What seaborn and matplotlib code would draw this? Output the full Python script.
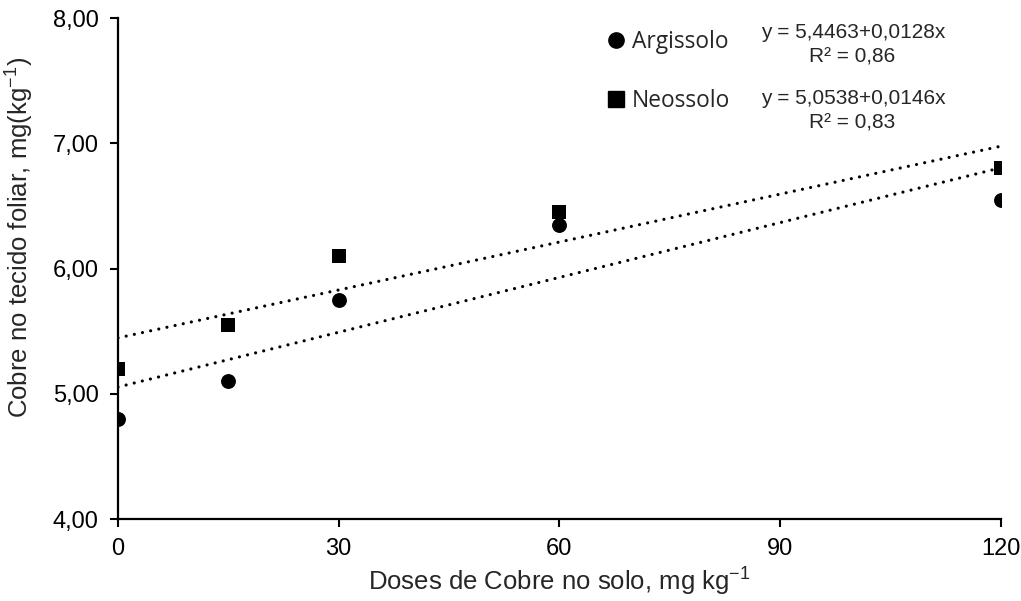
import matplotlib
matplotlib.use('Agg')
import matplotlib.pyplot as plt
import seaborn as sns
import pandas as pd
from matplotlib.lines import Line2D

doses = [0, 15, 30, 60, 120]
argissolo = [4.80, 5.10, 5.75, 6.35, 6.55]
neossolo = [5.20, 5.55, 6.10, 6.45, 6.80]

eq_argissolo = ['y = 5,4463+0,0128x', 'R² = 0,86']
eq_neossolo = ['y = 5,0538+0,0146x', 'R² = 0,83']

x_ticks = [0, 30, 60, 90, 120]
y_ticks = [4, 5, 6, 7, 8]

df = pd.DataFrame({'dose': doses + doses,
                   'cobre': argissolo + neossolo,
                   'solo': ['Argissolo'] * 5 + ['Neossolo'] * 5})

sns.set_style('white')
plt.rcParams['font.family'] = ['Liberation Sans', 'DejaVu Sans']
plt.rcParams['mathtext.fontset'] = 'custom'
plt.rcParams['mathtext.rm'] = 'Liberation Sans'
plt.rcParams['mathtext.it'] = 'Liberation Sans'

fig = plt.figure(figsize=(10.21, 6.01), dpi=100, facecolor='white')
ax = fig.add_axes([0.1156, 0.1364, 0.8644, 0.8336])

line_kws = {'color': 'black', 'linewidth': 2.3, 'linestyle': (0, (0.01, 2.6)),
            'dash_capstyle': 'round'}
markers = {'Argissolo': 'o', 'Neossolo': 's'}
for solo, sub in df.groupby('solo'):
    sns.regplot(data=sub, x='dose', y='cobre', ax=ax, ci=None, marker=markers[solo],
                scatter_kws={'s': 115, 'color': 'black', 'alpha': 1, 'linewidths': 0, 'zorder': 3},
                line_kws=line_kws)

ax.set_xlim(0, 120)
ax.set_ylim(4, 8)
ax.set_xticks(x_ticks)
ax.set_yticks(y_ticks)
ax.set_yticklabels([f'{v:.2f}'.replace('.', ',') for v in y_ticks])
ax.tick_params(axis='both', direction='out', length=6, width=1.5, colors='black',
               labelsize=17, pad=8, left=True, bottom=True)

for side in ['top', 'right']:
    ax.spines[side].set_visible(False)
for side in ['left', 'bottom']:
    ax.spines[side].set_color('black')
    ax.spines[side].set_linewidth(1.6)

ax.set_xlabel(r'Doses de Cobre no solo, mg kg$^{\mathregular{-1}}$', fontsize=18.5, labelpad=4)
ax.set_ylabel(r'Cobre no tecido foliar, mg(kg$^{\mathregular{-1}}$)', fontsize=18.5)
ax.yaxis.set_label_coords(-0.093, 0.562)

handles = [Line2D([], [], marker=markers[s], color='black', linestyle='none', markersize=11)
           for s in ['Argissolo', 'Neossolo']]
ax.legend(handles, ['Argissolo', 'Neossolo'], loc='upper left', bbox_to_anchor=(0.5225, 1.017),
          frameon=False, handletextpad=0.0, handlelength=1.4, labelspacing=1.55,
          prop={'family': 'Open Sans', 'size': 16.4})

for i, (eq, r2) in enumerate([eq_argissolo, eq_neossolo]):
    y0 = [32, 98][i]
    fig.text(853 / 1021, 1 - y0 / 601, eq, ha='center', va='center', fontsize=15)
    fig.text(852 / 1021, 1 - (y0 + 25) / 601, r2, ha='center', va='center', fontsize=15)

fig.savefig('out.png', dpi=100, facecolor='white')
plt.close(fig)
